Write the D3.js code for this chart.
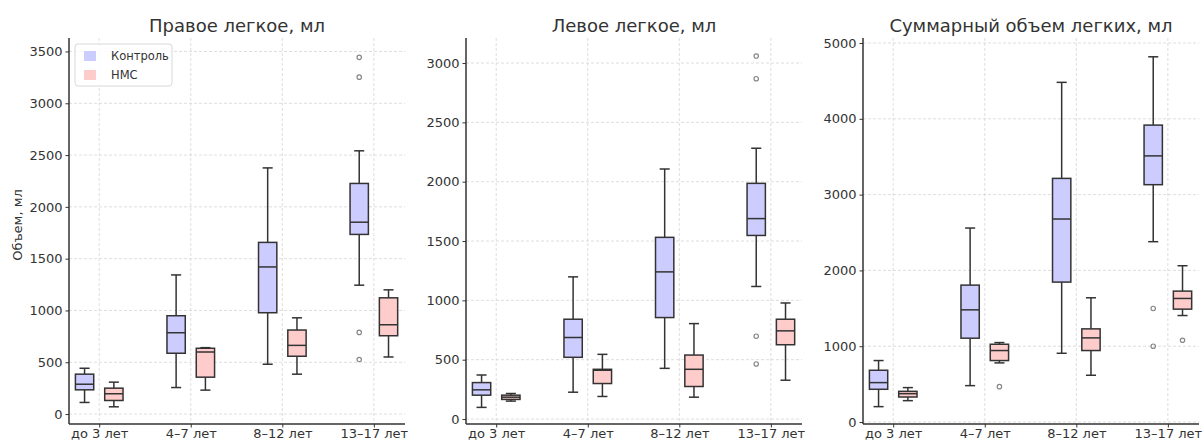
<!DOCTYPE html>
<html>
<head>
<meta charset="utf-8">
<script src="https://cdn.jsdelivr.net/npm/d3@7/dist/d3.min.js"></script>
<style>
  html, body { margin: 0; padding: 0; background: #fff; }
  svg { display: block; font-family: "DejaVu Sans", sans-serif; }
</style>
</head>
<body>
<svg id="chart" width="1204" height="441"></svg>
<script>
// категории и группы
const categories = ["до 3 лет", "4–7 лет", "8–12 лет", "13–17 лет"];
const groups = ["Контроль", "НМС"];
const groupColors = ["#ccccff", "#ffcccc"];

// [нижний ус, Q1, медиана, Q3, верхний ус]
const rightControl = [[112, 234, 288, 385, 442], [256, 587, 785, 949, 1343], [481, 978, 1420, 1657, 2376], [1244, 1734, 1852, 2226, 2541]];
const rightNms = [[70, 131, 196, 250, 308], [231, 356, 599, 635, 641], [385, 558, 663, 811, 929], [551, 756, 862, 1122, 1199]];
const rightOutControl = [[], [], [], [3443, 3252, 788, 526]];
const rightOutNms = [[], [], [], []];

const leftControl = [[98, 201, 246, 307, 371], [226, 520, 687, 841, 1198], [427, 855, 1240, 1531, 2107], [1117, 1547, 1689, 1986, 2282]];
const leftNms = [[151, 165, 184, 201, 215], [190, 299, 411, 419, 545], [184, 274, 419, 539, 804], [327, 626, 743, 841, 978]];
const leftOutControl = [[], [], [], [3059, 2868, 698, 464]];
const leftOutNms = [[], [], [], []];

const totalControl = [[203, 432, 520, 683, 811], [480, 1106, 1480, 1806, 2559], [907, 1846, 2678, 3214, 4481], [2379, 3131, 3511, 3917, 4818]];
const totalNms = [[282, 330, 374, 405, 454], [780, 811, 943, 1026, 1048], [617, 943, 1110, 1229, 1639], [1405, 1489, 1630, 1727, 2062]];
const totalOutControl = [[], [], [], [1498, 1000]];
const totalOutNms = [[], [467], [], [1079]];

const rightTicks = [0, 500, 1000, 1500, 2000, 2500, 3000, 3500];
const leftTicks = [0, 500, 1000, 1500, 2000, 2500, 3000];
const totalTicks = [0, 1000, 2000, 3000, 4000, 5000];

const panels = [
  {title: "Правое легкое, мл", left: 69, yDomain: [-96, 3630], ticks: rightTicks,
   stats: [rightControl, rightNms], outliers: [rightOutControl, rightOutNms], legend: true, ylabel: "Объем, мл"},
  {title: "Левое легкое, мл", left: 466, yDomain: [-42, 3211], ticks: leftTicks,
   stats: [leftControl, leftNms], outliers: [leftOutControl, leftOutNms]},
  {title: "Суммарный объем легких, мл", left: 863, yDomain: [-26, 5066], ticks: totalTicks,
   stats: [totalControl, totalNms], outliers: [totalOutControl, totalOutNms]}
];

const svg = d3.select("#chart");
const plotW = 336, plotTop = 38, plotBottom = 424;
const ink = "#333";
const offsets = [-0.16, 0.16];
const boxW = 0.2;

panels.forEach(p => {
  const x = d3.scaleLinear().domain([-0.33, 3.34]).range([p.left, p.left + plotW]);
  const y = d3.scaleLinear().domain(p.yDomain).range([plotBottom, plotTop]);
  const g = svg.append("g");

  // сетка
  const grid = g.append("g").attr("stroke", "#d6d6d6").attr("stroke-width", 0.8).attr("stroke-dasharray", "3,2");
  grid.selectAll("line.h").data(p.ticks).join("line").attr("class", "h")
    .attr("x1", p.left).attr("x2", p.left + plotW).attr("y1", d => y(d)).attr("y2", d => y(d));
  grid.selectAll("line.v").data(categories).join("line").attr("class", "v")
    .attr("x1", (d, i) => x(i)).attr("x2", (d, i) => x(i)).attr("y1", plotTop).attr("y2", plotBottom);

  // оси
  const yAxis = g.append("g").attr("transform", `translate(${p.left},0)`)
    .call(d3.axisLeft(y).tickValues(p.ticks).tickSize(3.5).tickPadding(3).tickFormat(d3.format("d")));
  const xAxis = g.append("g").attr("transform", `translate(0,${plotBottom})`)
    .call(d3.axisBottom(x).tickValues(d3.range(categories.length)).tickSize(3.5).tickPadding(1.5).tickFormat(i => categories[i]));
  [yAxis, xAxis].forEach(a => {
    a.select(".domain").attr("stroke", ink).attr("stroke-width", 1.5);
    a.selectAll(".tick line").attr("stroke", ink).attr("stroke-width", 1);
    a.selectAll(".tick text").attr("fill", ink).attr("font-size", 13).attr("font-family", "DejaVu Sans");
  });
  yAxis.select(".domain").attr("d", `M0,${plotBottom}V${plotTop}`);
  xAxis.select(".domain").attr("d", `M${p.left},0H${p.left + plotW}`);

  // заголовок
  g.append("text").attr("x", p.left + plotW / 2).attr("y", 32).attr("text-anchor", "middle")
    .attr("font-size", 18).attr("fill", ink).text(p.title);

  if (p.ylabel) {
    g.append("text").attr("transform", `translate(22,${(plotTop + plotBottom) / 2 - 6}) rotate(-90)`)
      .attr("text-anchor", "middle").attr("font-size", 13).attr("fill", ink).text(p.ylabel);
  }

  // боксы
  p.stats.forEach((series, gi) => {
    series.forEach((s, ci) => {
      const cx = x(ci + offsets[gi]);
      const hw = (x(boxW) - x(0)) / 2;
      const cw = hw * 0.55;
      const bg = g.append("g").attr("stroke", ink).attr("stroke-width", 1.5);
      bg.append("line").attr("x1", cx).attr("x2", cx).attr("y1", y(s[3])).attr("y2", y(s[4]));
      bg.append("line").attr("x1", cx).attr("x2", cx).attr("y1", y(s[1])).attr("y2", y(s[0]));
      bg.append("line").attr("x1", cx - cw).attr("x2", cx + cw).attr("y1", y(s[4])).attr("y2", y(s[4]));
      bg.append("line").attr("x1", cx - cw).attr("x2", cx + cw).attr("y1", y(s[0])).attr("y2", y(s[0]));
      bg.append("rect").attr("x", cx - hw).attr("width", 2 * hw)
        .attr("y", y(s[3])).attr("height", y(s[1]) - y(s[3])).attr("fill", groupColors[gi]);
      bg.append("line").attr("x1", cx - hw).attr("x2", cx + hw).attr("y1", y(s[2])).attr("y2", y(s[2]));
      g.selectAll(null).data(p.outliers[gi][ci]).join("circle")
        .attr("cx", cx).attr("cy", d => y(d)).attr("r", 2.2)
        .attr("fill", "none").attr("stroke", "#888").attr("stroke-width", 1.2);
    });
  });

  // легенда
  if (p.legend) {
    const lg = g.append("g").attr("transform", `translate(${p.left + 6},44)`);
    lg.append("rect").attr("width", 97).attr("height", 42).attr("rx", 3)
      .attr("fill", "#fff").attr("fill-opacity", 0.85).attr("stroke", "#d8d8d8");
    groups.forEach((name, i) => {
      lg.append("rect").attr("x", 9).attr("y", 7 + i * 19).attr("width", 12).attr("height", 10)
        .attr("fill", groupColors[i]);
      lg.append("text").attr("x", 36).attr("y", 16 + i * 19).attr("font-size", 11.5).attr("fill", ink).text(name);
    });
  }
});
</script>
</body>
</html>
